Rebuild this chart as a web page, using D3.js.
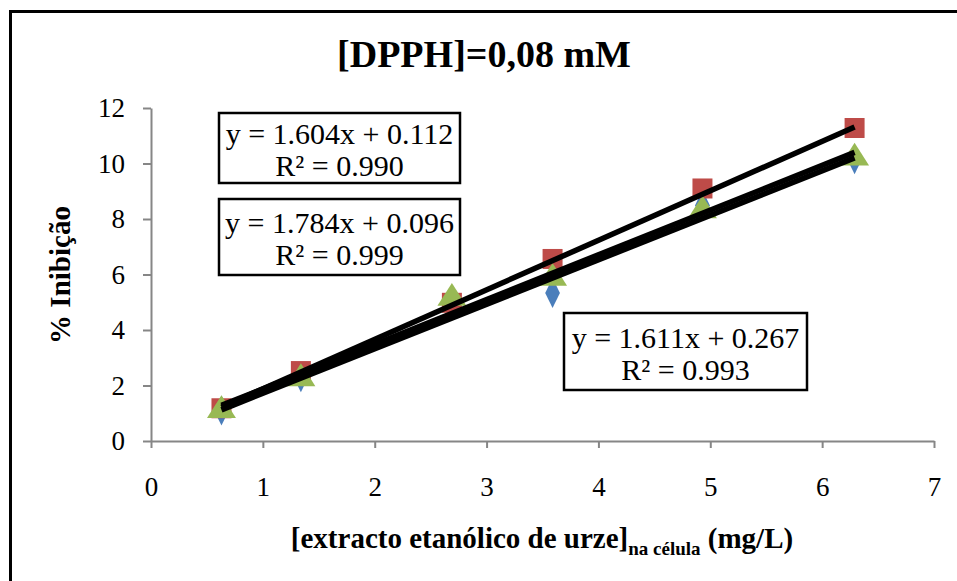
<!DOCTYPE html>
<html>
<head>
<meta charset="utf-8">
<script src="https://cdn.jsdelivr.net/npm/d3@7"></script>
<style>
  body { margin: 0; background: #fff; }
  svg text { font-family: "Liberation Serif", "Times New Roman", serif; }
</style>
</head>
<body>
<div id="chart"></div>
<script>
// concentrations (mg/L) and % inhibition for the three replicates
const concentrations = [0.63, 1.34, 2.69, 3.59, 4.93, 6.29];
const serieA = [1.10, 2.30, 5.00, 5.33, 8.50, 10.15]; // blue diamonds
const serieB = [1.18, 2.52, 4.98, 6.56, 9.10, 11.28]; // red squares
const serieC = [1.10, 2.25, 5.15, 5.87, 8.30, 10.20]; // green triangles
const xTicks = [0, 1, 2, 3, 4, 5, 6, 7];
const yTicks = [0, 2, 4, 6, 8, 10, 12];

// trendline equations as printed on the chart
const trendlines = [
  { slope: 1.604, intercept: 0.112, r2: '0.990' },
  { slope: 1.784, intercept: 0.096, r2: '0.999' },
  { slope: 1.611, intercept: 0.267, r2: '0.993' }
];

const W = 957, H = 581;
const svg = d3.select('#chart').append('svg')
  .attr('width', W).attr('height', H);

// outer chart border
svg.append('rect')
  .attr('x', 10.5).attr('y', 11.5)
  .attr('width', 960).attr('height', 600)
  .attr('fill', 'none').attr('stroke', '#000').attr('stroke-width', 3);

const plot = { left: 151, right: 934, top: 108, bottom: 441 };

const x = d3.scaleLinear().domain([0, 7]).range([plot.left, plot.right]);
const y = d3.scaleLinear().domain([0, 12]).range([plot.bottom, plot.top]);

// axes
const xAxis = svg.append('g')
  .attr('transform', `translate(0,${plot.bottom})`)
  .call(d3.axisBottom(x).tickValues(xTicks).tickFormat(d3.format('d'))
    .tickSize(7).tickSizeOuter(0));
const yAxis = svg.append('g')
  .attr('transform', `translate(${plot.left},0)`)
  .call(d3.axisLeft(y).tickValues(yTicks).tickFormat(d3.format('d'))
    .tickSize(8).tickPadding(18).tickSizeOuter(0));

[xAxis, yAxis].forEach(a => {
  a.attr('font-family', null).attr('font-size', null);
  a.select('.domain').attr('stroke', '#868686').attr('stroke-width', 2);
  a.selectAll('.tick line').attr('stroke', '#868686').attr('stroke-width', 2);
  a.selectAll('.tick text')
    .style('font-size', '27px')
    .attr('fill', '#000');
});
xAxis.selectAll('.tick text').attr('y', 36);

// markers
const series = [
  { values: serieA, color: '#4a7ebb', shape: d3.symbolDiamond, size: 260, scaleX: 0.85 },
  { values: serieB, color: '#be4b48', shape: d3.symbolSquare, size: 400, scaleX: 1 },
  { values: serieC, color: '#98b954', shape: d3.symbolTriangle, size: 300, scaleX: 1.1 }
];

series.forEach(s => {
  svg.append('g').selectAll('path')
    .data(s.values)
    .enter()
    .append('path')
    .attr('d', d3.symbol().type(s.shape).size(s.size))
    .attr('transform', (d, i) => `translate(${x(concentrations[i])},${y(d)}) scale(${s.scaleX},1)`)
    .attr('fill', s.color);
});

// trendlines over the data range
const xMin = d3.min(concentrations), xMax = d3.max(concentrations);
svg.append('g').selectAll('line')
  .data(trendlines)
  .enter()
  .append('line')
  .attr('x1', x(xMin)).attr('x2', x(xMax))
  .attr('y1', d => y(d.slope * xMin + d.intercept))
  .attr('y2', d => y(d.slope * xMax + d.intercept))
  .attr('stroke', '#000').attr('stroke-width', 5.5)
  .attr('stroke-linecap', 'butt');

// equation boxes
const boxes = [
  { eq: trendlines[0], x: 219, y: 113, w: 241, h: 70 },
  { eq: trendlines[1], x: 219, y: 199, w: 241, h: 76 },
  { eq: trendlines[2], x: 564, y: 313, w: 243, h: 77 }
];

boxes.forEach(b => {
  const g = svg.append('g');
  g.append('rect')
    .attr('x', b.x).attr('y', b.y).attr('width', b.w).attr('height', b.h)
    .attr('fill', '#fff').attr('stroke', '#000').attr('stroke-width', 2.5);
  g.append('text')
    .attr('x', b.x + b.w / 2).attr('y', b.y + b.h / 2 - 4)
    .attr('text-anchor', 'middle')
    .style('font-size', '30px')
    .text(`y = ${b.eq.slope.toFixed(3)}x + ${b.eq.intercept.toFixed(3)}`);
  g.append('text')
    .attr('x', b.x + b.w / 2).attr('y', b.y + b.h / 2 + 28)
    .attr('text-anchor', 'middle')
    .style('font-size', '30px')
    .text(`R² = ${b.eq.r2}`);
});

// title
svg.append('text')
  .attr('x', 484).attr('y', 67)
  .attr('text-anchor', 'middle')
  .style('font-size', '38px').style('font-weight', 'bold')
  .text('[DPPH]=0,08 mM');

// y title
svg.append('text')
  .attr('transform', 'translate(70,275) rotate(-90)')
  .attr('text-anchor', 'middle')
  .style('font-size', '29px').style('font-weight', 'bold')
  .text('% Inibição');

// x title with subscript
const xt = svg.append('text')
  .attr('x', 542).attr('y', 548)
  .attr('text-anchor', 'middle')
  .style('font-size', '29px').style('font-weight', 'bold');
xt.append('tspan').text('[extracto etanólico de urze]');
xt.append('tspan').attr('dy', 7).style('font-size', '19px').text('na célula');
xt.append('tspan').attr('dy', -7).text(' (mg/L)');
</script>
</body>
</html>
